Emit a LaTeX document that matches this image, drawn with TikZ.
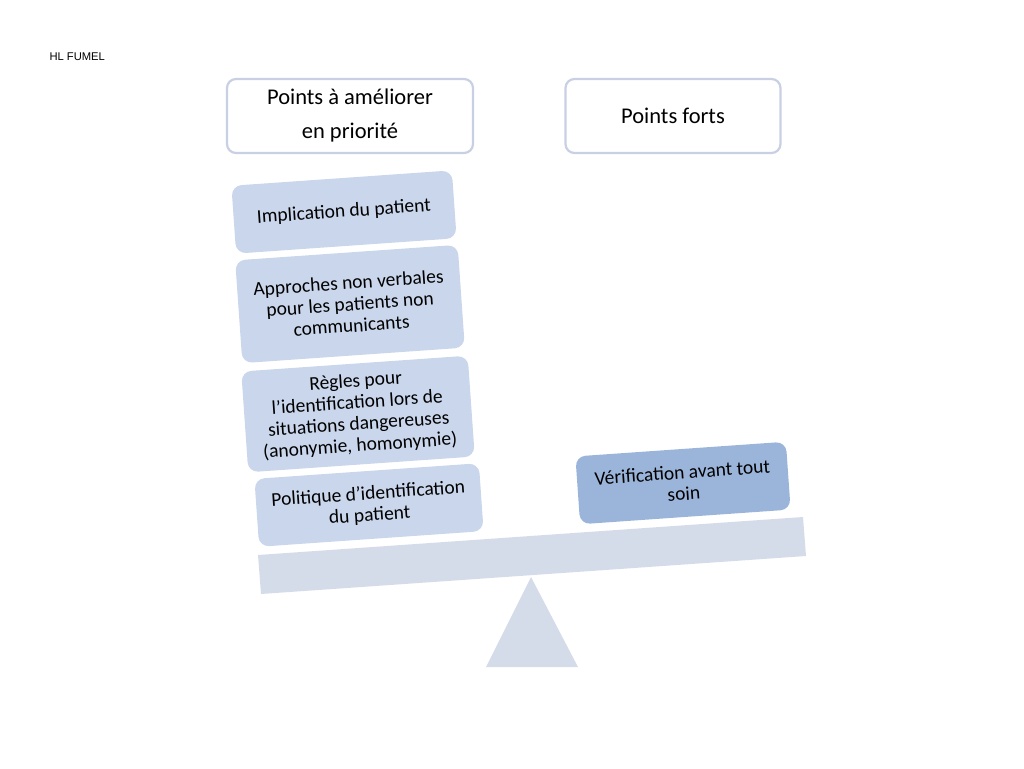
\documentclass[tikz,border=0pt]{standalone}
\usepackage{fontspec}
\setmainfont{Carlito}
\newfontfamily\arialfont{Liberation Sans}
\usepackage{tikz}
\usepackage{xcolor}
\definecolor{headline}{HTML}{C9D0E3}
\definecolor{lightbox}{HTML}{C9D6EB}
\definecolor{darkbox}{HTML}{9BB5DA}
\definecolor{beamfill}{HTML}{D4DBE9}

\begin{document}
\begin{tikzpicture}[x=1pt,y=-1pt,
        header/.style={draw=headline,line width=2.2pt,fill=white,rounded corners=9pt,
            minimum width=246pt,minimum height=74pt,align=center,
            font=\fontsize{22.5}{34}\selectfont},
        weight/.style={fill=lightbox,rounded corners=10pt,rotate=4,align=center,
            inner sep=0pt,font=\fontsize{19.5}{21.5}\selectfont}]
        \useasboundingbox (0,0) rectangle (1024,768);

        \node[anchor=west,font=\arialfont\fontsize{11.2}{13}\selectfont] (site) at (46,57) {HL FUMEL};

        \node[header] (prio) at (350,116) {Points à améliorer\\en priorité};
        \node[header,minimum width=215pt] (forts) at (673,116) {Points forts};

        % balance
        \fill[beamfill] (531,577) -- (578,667) -- (486,667) -- cycle;
        \fill[beamfill] (258,555) -- (803,517) -- (806,556) -- (261,594) -- cycle;

        \node[weight,minimum width=221pt,minimum height=68pt] (implic) at (344,212) {Implication du patient};
        \node[weight,minimum width=223pt,minimum height=103pt] (nonverb) at (350,304)
            {Approches non verbales\\pour les patients non\\communicants};
        \node[weight,minimum width=227pt,minimum height=101pt] (regles) at (358,414)
            {Règles pour\\l’identification lors de\\situations dangereuses\\(anonymie, homonymie)};
        \node[weight,minimum width=225pt,minimum height=68pt] (politique) at (369,505)
            {Politique d’identification\\du patient};

        \node[weight,fill=darkbox,minimum width=211pt,minimum height=68pt] (verif) at (683,483)
            {Vérification avant tout\\soin};
    \end{tikzpicture}
\end{document}
